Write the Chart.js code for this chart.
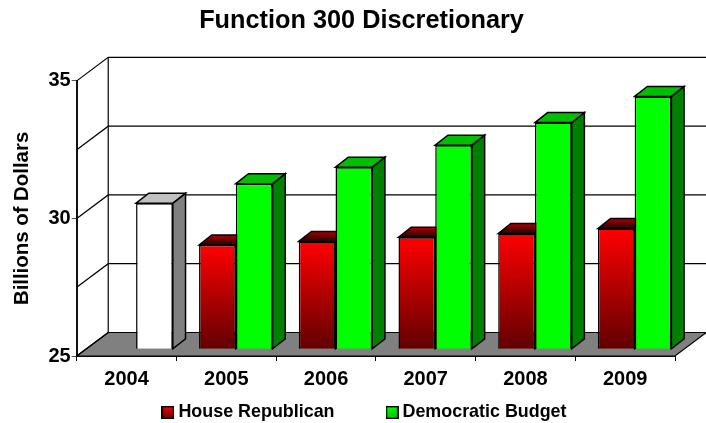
<!DOCTYPE html>
<html lang="en">
<head>
<meta charset="UTF-8">
<title>Function 300 Discretionary</title>
<script src="https://cdn.jsdelivr.net/npm/chart.js"></script>
<style>
  html, body { margin: 0; padding: 0; background: #fff; }
  #wrap { width: 706px; height: 423px; }
</style>
</head>
<body>
<div id="wrap"><canvas id="chart" width="706" height="423"></canvas></div>
<script>
// values
const years = ['2004', '2005', '2006', '2007', '2008', '2009'];
const houseRepublican = [null, 28.79, 28.92, 29.07, 29.21, 29.39];
const democraticBudget = [30.31, 31.02, 31.62, 32.42, 33.24, 34.19];

const FONT = '"Liberation Sans", Arial, sans-serif';

// 3d look: wall depth and where the bars sit inside it
const WALL_DX = 31.5, WALL_DY = -23.5;
const BAR_SHIFT_X = 9.5, BAR_SHIFT_Y = -6.7;
const BAR_DX = 12.7, BAR_DY = -10;
const LEGEND_PADDING = 56;

function redFront(context) {
  const { chart, dataIndex } = context;
  const v = houseRepublican[dataIndex];
  const y = chart.scales.y;
  if (v == null || !y) return '#ff0000';
  const g = chart.ctx.createLinearGradient(0, y.getPixelForValue(v), 0, y.bottom);
  g.addColorStop(0, '#ff0000');
  g.addColorStop(1, '#600000');
  return g;
}

function greenFront(context) {
  return years[context.dataIndex] === '2004' ? '#ffffff' : '#00ff00';
}

function legendBox(top, bottom) {
  const c = document.createElement('canvas');
  c.width = 13; c.height = 13;
  const x = c.getContext('2d');
  const g = x.createLinearGradient(0, 0, 0, 13);
  g.addColorStop(0, top);
  g.addColorStop(1, bottom);
  x.fillStyle = g;
  x.fillRect(0, 0, 13, 13);
  x.strokeStyle = '#000';
  x.lineWidth = 1.4;
  x.strokeRect(0.7, 0.7, 11.6, 11.6);
  return c;
}

function poly(ctx, pts, fill) {
  ctx.beginPath();
  pts.forEach((p, i) => i ? ctx.lineTo(p[0], p[1]) : ctx.moveTo(p[0], p[1]));
  ctx.closePath();
  ctx.fillStyle = fill;
  ctx.fill();
  ctx.stroke();
}

function drawWalls(chart) {
  const { ctx, scales: { x, y } } = chart;
  const l = x.left, r = x.right, b = y.bottom;
  ctx.strokeStyle = '#000';
  ctx.lineWidth = 1.2;
  poly(ctx, [[l, b], [l + WALL_DX, b + WALL_DY], [r + WALL_DX, b + WALL_DY], [r, b]], '#808080');
  y.ticks.forEach(t => {
    const py = y.getPixelForValue(t.value);
    ctx.beginPath();
    ctx.moveTo(l, py);
    ctx.lineTo(l + WALL_DX, py + WALL_DY);
    if (t.value > y.min) ctx.lineTo(r + WALL_DX, py + WALL_DY);
    ctx.stroke();
  });
  ctx.beginPath();
  ctx.moveTo(l + WALL_DX, y.top + WALL_DY);
  ctx.lineTo(l + WALL_DX, b + WALL_DY);
  ctx.stroke();
}

// side and roof of each bar, the library draws the fronts on top of them
function drawBarFaces(chart, dsIndex) {
  const ctx = chart.ctx;
  const isRed = dsIndex === 0;
  const values = chart.data.datasets[dsIndex].data;
  chart.getDatasetMeta(dsIndex).data.forEach((bar, i) => {
    if (values[i] == null) return;
    const { x, y, base, width } = bar.getProps(['x', 'y', 'base', 'width'], true);
    const a = x - width / 2, c = x + width / 2;
    const white = !isRed && years[i] === '2004';
    const side = isRed ? '#800000' : white ? '#808080' : '#008000';
    let roof = white ? '#c0c0c0' : '#00bf00';
    if (isRed) {
      roof = ctx.createLinearGradient(0, y + BAR_DY, 0, y);
      roof.addColorStop(0, '#b00000');
      roof.addColorStop(1, '#200000');
    }
    poly(ctx, [[c, y], [c + BAR_DX, y + BAR_DY], [c + BAR_DX, base + BAR_DY], [c, base]], side);
    poly(ctx, [[a, y], [a + BAR_DX, y + BAR_DY], [c + BAR_DX, y + BAR_DY], [c, y]], roof);
  });
}

const scene3d = {
  id: 'scene3d',
  afterLayout(chart) {
    // title and legend are not centred on the canvas in the original
    const t = chart.titleBlock, g = chart.legend;
    const dt = 361.5 - (t.left + t.right) / 2;
    t.left += dt; t.right += dt;
    const dg = 366.5 - (g.left + g.right) / 2;
    g.left += dg; g.right += dg;
    // the legend draws its row one padding below its top and clips to its box
    g.top = 403.5 - LEGEND_PADDING;
    g.bottom = chart.height;
  },
  beforeDatasetsDraw(chart) {
    const ctx = chart.ctx;
    ctx.save();
    drawWalls(chart);
    ctx.restore();
    ctx.save();
    ctx.translate(BAR_SHIFT_X, BAR_SHIFT_Y);
    ctx.strokeStyle = '#000';
    ctx.lineWidth = 1.5;
    drawBarFaces(chart, 0);
    drawBarFaces(chart, 1);
  },
  afterDatasetsDraw(chart) {
    chart.ctx.restore();
  }
};

new Chart(document.getElementById('chart'), {
  type: 'bar',
  data: {
    labels: years,
    datasets: [
      {
        label: 'House Republican',
        data: houseRepublican,
        backgroundColor: redFront,
        borderColor: '#000',
        borderWidth: 1.5,
        base: 25,
        clip: false,
        pointStyle: legendBox('#ff0000', '#600000')
      },
      {
        label: 'Democratic Budget',
        data: democraticBudget,
        backgroundColor: greenFront,
        borderColor: '#000',
        borderWidth: 1.5,
        base: 25,
        clip: false,
        pointStyle: legendBox('#00ff00', '#00c000')
      }
    ]
  },
  plugins: [scene3d],
  options: {
    responsive: false,
    animation: false,
    categoryPercentage: 0.737,
    barPercentage: 1,
    layout: { padding: { top: 4, right: 31, bottom: 0, left: 10 } },
    scales: {
      x: {
        grid: { drawOnChartArea: false, color: '#000', tickLength: 5, tickWidth: 1 },
        border: { color: '#111', width: 2 },
        ticks: { color: '#000', font: { family: FONT, size: 20, weight: 'bold' }, padding: 6 }
      },
      y: {
        min: 25,
        max: 35,
        title: {
          display: true,
          text: 'Billions of Dollars',
          color: '#000',
          font: { family: FONT, size: 20.4, weight: 'bold' },
          padding: { top: 0, bottom: 13 }
        },
        grid: {
          drawOnChartArea: false,
          tickLength: 5,
          tickColor: c => (c.tick.value % 5 === 0 ? '#555' : 'rgba(0,0,0,0)')
        },
        border: { color: '#111', width: 2 },
        ticks: {
          stepSize: 2.5,
          color: '#000',
          font: { family: FONT, size: 20, weight: 'bold' },
          padding: 1,
          callback: v => (v % 5 === 0 ? v : '')
        }
      }
    },
    plugins: {
      tooltip: { enabled: false },
      title: {
        display: true,
        text: 'Function 300 Discretionary',
        color: '#000',
        font: { family: FONT, size: 25.3, weight: 'bold' },
        padding: { top: 2, bottom: 44.5 }
      },
      legend: {
        position: 'bottom',
        maxHeight: 26,
        labels: {
          color: '#000',
          font: { family: FONT, size: 17.9, weight: 'bold' },
          usePointStyle: true,
          pointStyleWidth: 3,
          padding: LEGEND_PADDING
        }
      }
    }
  }
});
</script>
</body>
</html>
